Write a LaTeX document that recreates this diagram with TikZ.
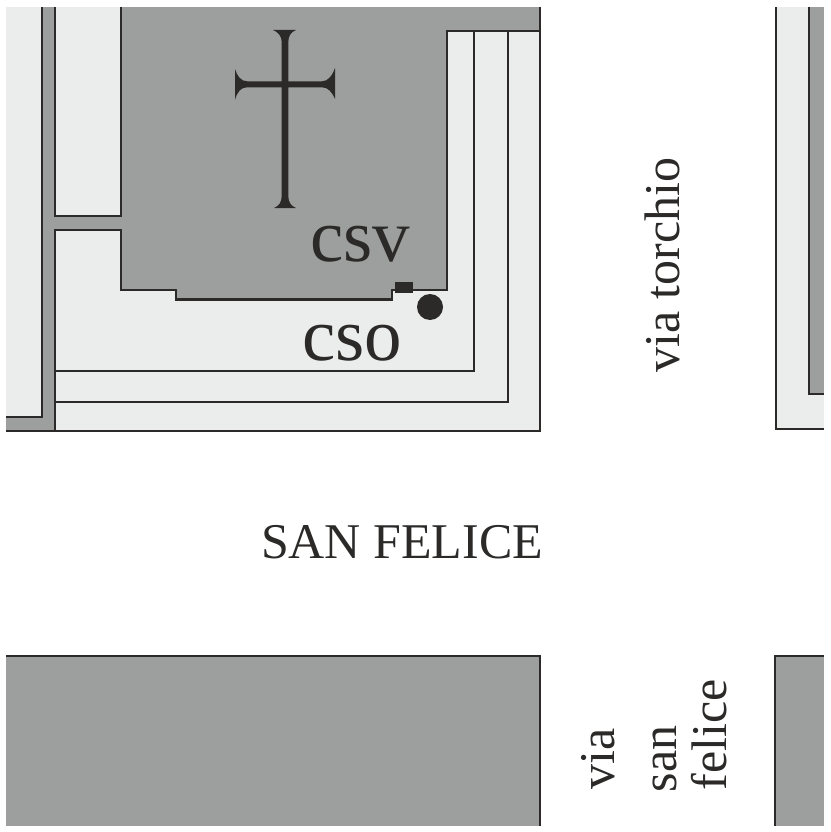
\documentclass[tikz,border=0pt]{standalone}
\usepackage{fontspec}
\setmainfont{Liberation Serif}
\usetikzlibrary{positioning}
\definecolor{wallgray}{HTML}{9D9F9E}
\definecolor{roomlight}{HTML}{EBECEC}
\definecolor{inkdark}{HTML}{2B2A29}
\tikzset{
    wall/.style={draw=inkdark, line width=2.2pt, line join=miter},
    label/.style={text=inkdark, inner sep=0pt, anchor=base, font=\fontsize{50}{50}\selectfont},
    biglabel/.style={label, font=\fontsize{75}{75}\selectfont},
    streetlabel/.style={label, rotate=90}
}
\begin{document}
\begin{tikzpicture}[x=1pt, y=-1pt]
    \useasboundingbox (0,0) rectangle (830,832);

    % Blocks
    \fill[wallgray] (6,7) rectangle (540,431);
    \fill[roomlight] (6,7) rectangle (42,417);
    \fill[roomlight] (55,7) rectangle (121,216);
    \fill[roomlight] (55,230) -- (121,230) -- (121,290) -- (176,290) -- (176,299.5) -- (392,299.5) -- (392,290) -- (447,290) -- (447,31) -- (540,31) -- (540,431) -- (55,431) -- cycle;

    % Walls of the left block
    \draw[wall] (42,7) -- (42,417) -- (6,417);
    \draw[wall] (55,7) -- (55,216) -- (121,216) -- (121,7);
    \draw[wall] (55,431) -- (55,230) -- (121,230) -- (121,290) -- (176,290) -- (176,299.5) -- (392,299.5) -- (392,290) -- (447,290) -- (447,31) -- (540,31);
    \draw[wall] (474,31) -- (474,371) -- (55,371);
    \draw[wall] (508,31) -- (508,402) -- (55,402);
    \draw[wall] (540,7) -- (540,431) -- (6,431);

    % Right block
    \fill[roomlight] (776,7) rectangle (824,429);
    \fill[wallgray] (809,7) rectangle (824,394);
    \draw[wall] (776,7) -- (776,429) -- (824,429);
    \draw[wall] (824,394) -- (809,394) -- (809,7);

    % Bottom blocks
    \fill[wallgray] (6,656) rectangle (540,826);
    \draw[wall] (6,656) -- (540,656) -- (540,826);
    \fill[wallgray] (775,656) rectangle (824,826);
    \draw[wall] (824,656) -- (775,656) -- (775,826);

    % Cross
    \fill[inkdark] (273,30) -- (296,30) .. controls (291,32) and (288.3,36) .. (288.3,42) -- (288.3,81.3) -- (322,81.3) .. controls (328,81.3) and (332,76) .. (335,68) -- (335,99) .. controls (332,92) and (328,87.3) .. (322,87.3) -- (288.3,87.3) -- (288.3,196) .. controls (288.3,202) and (291,206) .. (296,208) -- (274,208) .. controls (279,206) and (281.7,202) .. (281.7,196) -- (281.7,87.3) -- (247,87.3) .. controls (241,87.3) and (237,92) .. (235,100) -- (235,69) .. controls (237,76) and (241,81.3) .. (247,81.3) -- (281.7,81.3) -- (281.7,42) .. controls (281.7,36) and (278,32) .. (273,30) -- cycle;

    % Altar and dot
    \fill[inkdark] (395,282) rectangle (413,293);
    \fill[inkdark] (430,307) circle (13);

    % Labels
    \node[biglabel] (csv) at (360,261) {csv};
    \node[biglabel] (cso) at (352,360) {cso};
    \node[label] (piazza) at (402,558) {SAN FELICE};
    \node[streetlabel] (torchio) at (679,265) {via torchio};
    \node[streetlabel] (via) at (614,759) {via};
    \node[streetlabel] (san) at (676,759) {san};
    \node[streetlabel] (felice) at (726,735) {felice};
\end{tikzpicture}
\end{document}
